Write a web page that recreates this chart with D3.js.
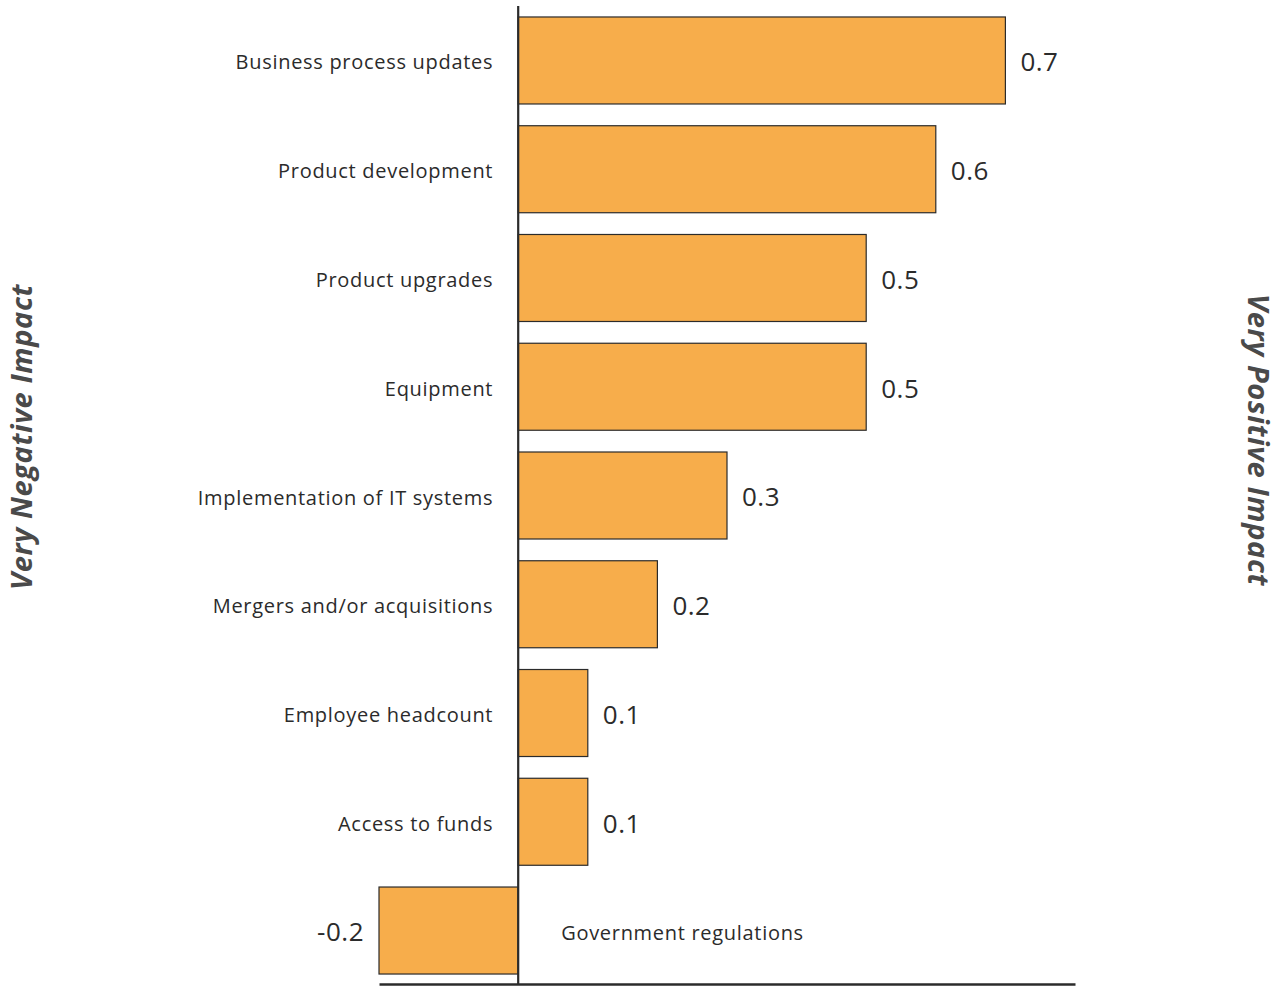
<!DOCTYPE html>
<html>
<head>
<meta charset="utf-8">
<script src="https://cdn.jsdelivr.net/npm/d3@7"></script>
<style>
  html, body { margin: 0; padding: 0; background: #fff; }
  svg { display: block; }
  text { font-family: "Open Sans", "Noto Sans", sans-serif; }
</style>
</head>
<body>
<svg id="chart" width="1283" height="986"></svg>
<script>
// Impact of each factor, from very negative to very positive
const categories = [
  "Business process updates",
  "Product development",
  "Product upgrades",
  "Equipment",
  "Implementation of IT systems",
  "Mergers and/or acquisitions",
  "Employee headcount",
  "Access to funds",
  "Government regulations"
];
const values = [0.7, 0.6, 0.5, 0.5, 0.3, 0.2, 0.1, 0.1, -0.2];
const valueLabels = ["0.7", "0.6", "0.5", "0.5", "0.3", "0.2", "0.1", "0.1", "-0.2"];
const sideTitles = ["Very Negative Impact", "Very Positive Impact"];

const data = categories.map((c, i) => ({ category: c, value: values[i], label: valueLabels[i] }));

const svg = d3.select("#chart");

const x = d3.scaleLinear().domain([-0.2, 0.8]).range([379, 1075]);
const y = d3.scaleBand().domain(categories).range([6.1, 984.9]).paddingInner(0.2).paddingOuter(0.1);

const barFill = "#F7AD4B";
const ink = "#2b2b2b";

// Bars
svg.append("g").selectAll("rect")
  .data(data)
  .join("rect")
  .attr("x", d => x(Math.min(0, d.value)))
  .attr("y", d => y(d.category))
  .attr("width", d => Math.abs(x(d.value) - x(0)))
  .attr("height", y.bandwidth())
  .attr("fill", barFill)
  .attr("stroke", ink)
  .attr("stroke-width", 1.2);

// Zero line
svg.append("line")
  .attr("x1", x(0)).attr("x2", x(0))
  .attr("y1", 6).attr("y2", 985)
  .attr("stroke", ink).attr("stroke-width", 2.2);

// Baseline axis
const xAxis = d3.axisBottom(x).tickValues([]).tickSizeOuter(0);
const axisG = svg.append("g").attr("transform", "translate(0,984)").call(xAxis);
axisG.select(".domain").attr("stroke", ink).attr("stroke-width", 2.5);

// Category labels: left of zero for positive bars, right of zero for negative ones
svg.append("g").selectAll("text")
  .data(data)
  .join("text")
  .attr("x", d => d.value >= 0 ? x(0) - 25 : x(0) + 43)
  .attr("y", d => y(d.category) + y.bandwidth() / 2)
  .attr("dy", "0.45em")
  .attr("text-anchor", d => d.value >= 0 ? "end" : "start")
  .attr("font-size", 20)
  .attr("letter-spacing", 0.7)
  .attr("fill", ink)
  .text(d => d.category);

// Value labels at bar ends
svg.append("g").selectAll("text")
  .data(data)
  .join("text")
  .attr("x", d => d.value >= 0 ? x(d.value) + 15 : x(d.value) - 15)
  .attr("y", d => y(d.category) + y.bandwidth() / 2)
  .attr("dy", "0.42em")
  .attr("text-anchor", d => d.value >= 0 ? "start" : "end")
  .attr("font-size", 26)
  .attr("letter-spacing", 0.5)
  .attr("fill", ink)
  .text(d => d.label);

// Side titles
svg.append("text")
  .attr("transform", "translate(22,437) rotate(-90)")
  .attr("text-anchor", "middle")
  .attr("dy", "0.35em")
  .attr("font-size", 29)
  .attr("letter-spacing", 0.6)
  .attr("font-weight", "bold")
  .attr("font-style", "italic")
  .attr("fill", "#4a4a4a")
  .text(sideTitles[0]);

svg.append("text")
  .attr("transform", "translate(1258,440) rotate(90)")
  .attr("text-anchor", "middle")
  .attr("dy", "0.35em")
  .attr("font-size", 29)
  .attr("letter-spacing", 0.6)
  .attr("font-weight", "bold")
  .attr("font-style", "italic")
  .attr("fill", "#4a4a4a")
  .text(sideTitles[1]);
</script>
</body>
</html>
